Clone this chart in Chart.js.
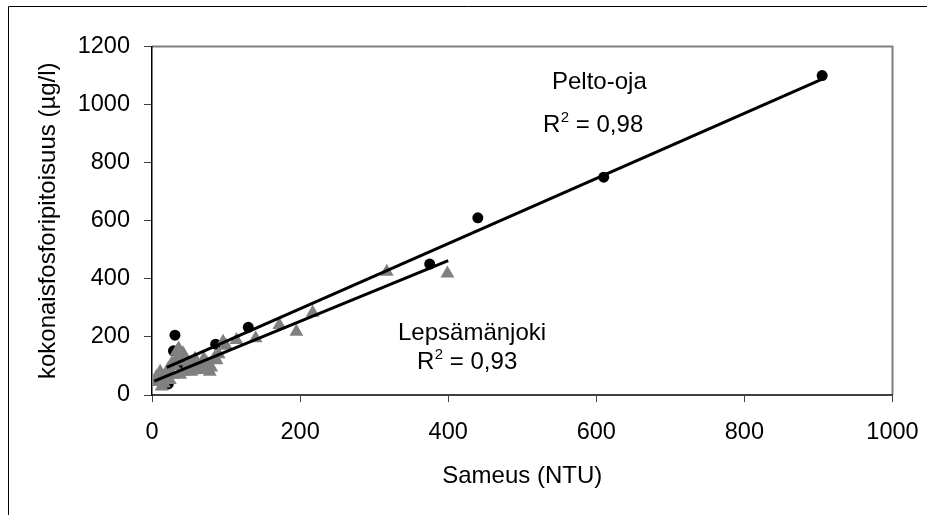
<!DOCTYPE html>
<html>
<head>
<meta charset="utf-8">
<script src="https://cdn.jsdelivr.net/npm/chart.js@4/dist/chart.umd.min.js"></script>
<style>
html,body{margin:0;padding:0;background:#fff;}
#wrap{width:927px;height:515px;position:relative;}
</style>
</head>
<body>
<div id="wrap"><canvas id="c"></canvas></div>
<script>
// ---- data ----
const peltoX = [905, 610, 440, 375, 130, 86, 31, 29, 39, 22];
const peltoY = [1100, 750, 610, 451, 233, 175, 206, 152, 100, 38];

const lepsX = [399, 317, 217, 195, 172, 140, 114, 96, 100, 87, 80, 74, 70, 65, 60, 55, 53, 48, 45, 42, 38, 35, 33, 30, 27, 24, 20, 18, 15, 13, 11, 8, 6, 4,
               50, 58, 62, 68, 75, 85, 90, 44, 38, 28, 22, 16, 10, 36, 40, 57, 78];
const lepsY = [418, 424, 283, 218, 241, 195, 189, 183, 170, 120, 95, 110, 125, 86, 100, 90, 80, 95, 120, 144, 135, 130, 149, 100, 110, 52, 75, 60, 45, 29, 80, 45, 63, 50,
               110, 125, 105, 100, 90, 130, 140, 80, 70, 70, 90, 40, 50, 160, 115, 85, 80];

// trend line end points
const peltoTrendX = [20, 905];
const peltoTrendY = [95, 1088];
const lepsTrendX = [3, 400];
const lepsTrendY = [48, 463];

const xTicks = [0, 200, 400, 600, 800, 1000];
const yTicks = [0, 200, 400, 600, 800, 1000, 1200];

const seriesNames = ['Pelto-oja', 'Lepsämänjoki'];
const r2Labels = ['R² = 0,98', 'R² = 0,93'];
const xTitle = 'Sameus (NTU)';
const yTitle = 'kokonaisfosforipitoisuus (µg/l)';

const FONT = '"Liberation Sans", Arial, sans-serif';
const toPts = (xs, ys) => xs.map((x, i) => ({x: x, y: ys[i]}));

const framePlugin = {
  id: 'frame',
  beforeDraw(chart) {
    const ctx = chart.ctx;
    ctx.save();
    ctx.strokeStyle = '#000';
    ctx.lineWidth = 1;
    ctx.beginPath();
    ctx.moveTo(8.5, 515);
    ctx.lineTo(8.5, 6.5);
    ctx.lineTo(927, 6.5);
    ctx.stroke();
    const a = chart.chartArea;
    ctx.strokeStyle = '#808080';
    ctx.lineWidth = 2;
    ctx.beginPath();
    ctx.moveTo(a.left, a.top);
    ctx.lineTo(a.right, a.top);
    ctx.lineTo(a.right, a.bottom);
    ctx.stroke();
    ctx.restore();
  },
  afterDraw(chart) {
    const ctx = chart.ctx;
    ctx.save();
    ctx.fillStyle = '#000';
    ctx.textBaseline = 'alphabetic';
    ctx.textAlign = 'left';
    const big = '24px ' + FONT;
    const small = '15px ' + FONT;
    function r2(text, x, y) {
      const parts = text.split('²');
      ctx.font = big;
      ctx.fillText(parts[0], x, y);
      let w = ctx.measureText(parts[0]).width;
      ctx.font = small;
      ctx.fillText('2', x + w + 0.5, y - 10);
      w += ctx.measureText('2').width + 0.5;
      ctx.font = big;
      ctx.fillText(parts[1], x + w, y);
    }
    ctx.font = big;
    ctx.fillText(seriesNames[0], 552, 89);
    r2(r2Labels[0], 543, 132);
    ctx.font = big;
    ctx.fillText(seriesNames[1], 398, 340);
    r2(r2Labels[1], 417, 369);
    ctx.restore();
  }
};

new Chart(document.getElementById('c'), {
  type: 'scatter',
  data: {
    datasets: [
      {
        label: seriesNames[0] + ' trend',
        type: 'line',
        data: toPts(peltoTrendX, peltoTrendY),
        borderColor: '#000',
        borderWidth: 3,
        pointRadius: 0,
        fill: false,
        order: 0
      },
      {
        label: seriesNames[1] + ' trend',
        type: 'line',
        data: toPts(lepsTrendX, lepsTrendY),
        borderColor: '#000',
        borderWidth: 3,
        pointRadius: 0,
        fill: false,
        order: 0
      },
      {
        label: seriesNames[1],
        data: toPts(lepsX, lepsY),
        pointStyle: 'triangle',
        pointRadius: 8,
        backgroundColor: '#808080',
        borderColor: '#808080',
        borderWidth: 0,
        order: 1
      },
      {
        label: seriesNames[0],
        data: toPts(peltoX, peltoY),
        pointStyle: 'circle',
        pointRadius: 5.5,
        backgroundColor: '#000',
        borderColor: '#000',
        borderWidth: 0,
        order: 2
      }
    ]
  },
  options: {
    responsive: true,
    maintainAspectRatio: false,
    animation: false,
    events: [],
    layout: {padding: {left: 0, top: 46.5, right: 34.5, bottom: 0}},
    plugins: {legend: {display: false}, tooltip: {enabled: false}},
    scales: {
      x: {
        type: 'linear',
        min: 0, max: 1000,
        afterBuildTicks: s => { s.ticks = xTicks.map(v => ({value: v})); },
        afterFit: s => { s.height = 120; s.paddingLeft = 0; s.paddingRight = 0; },
        border: {display: true, color: '#404040', width: 2},
        grid: {drawOnChartArea: false, drawTicks: true, tickLength: 7, tickColor: '#404040', tickWidth: 1},
        ticks: {color: '#000', font: {family: FONT, size: 23.5}, padding: 16, maxRotation: 0, callback: v => String(v)},
        title: {display: true, text: xTitle, color: '#000', font: {family: FONT, size: 24}, padding: {top: 0, bottom: 24.6}}
      },
      y: {
        type: 'linear',
        min: 0, max: 1200,
        afterBuildTicks: s => { s.ticks = yTicks.map(v => ({value: v})); },
        afterFit: s => { s.width = 152; s.paddingTop = 0; s.paddingBottom = 0; },
        border: {display: true, color: '#000', width: 1.5},
        grid: {drawOnChartArea: false, drawTicks: true, tickLength: 8, tickColor: '#404040', tickWidth: 1},
        ticks: {color: '#000', font: {family: FONT, size: 23.5}, padding: 14, callback: v => String(v)},
        title: {display: true, text: yTitle, color: '#000', font: {family: FONT, size: 24}, padding: {top: 33.6, bottom: 0}}
      }
    }
  },
  plugins: [framePlugin]
});
</script>
</body>
</html>
